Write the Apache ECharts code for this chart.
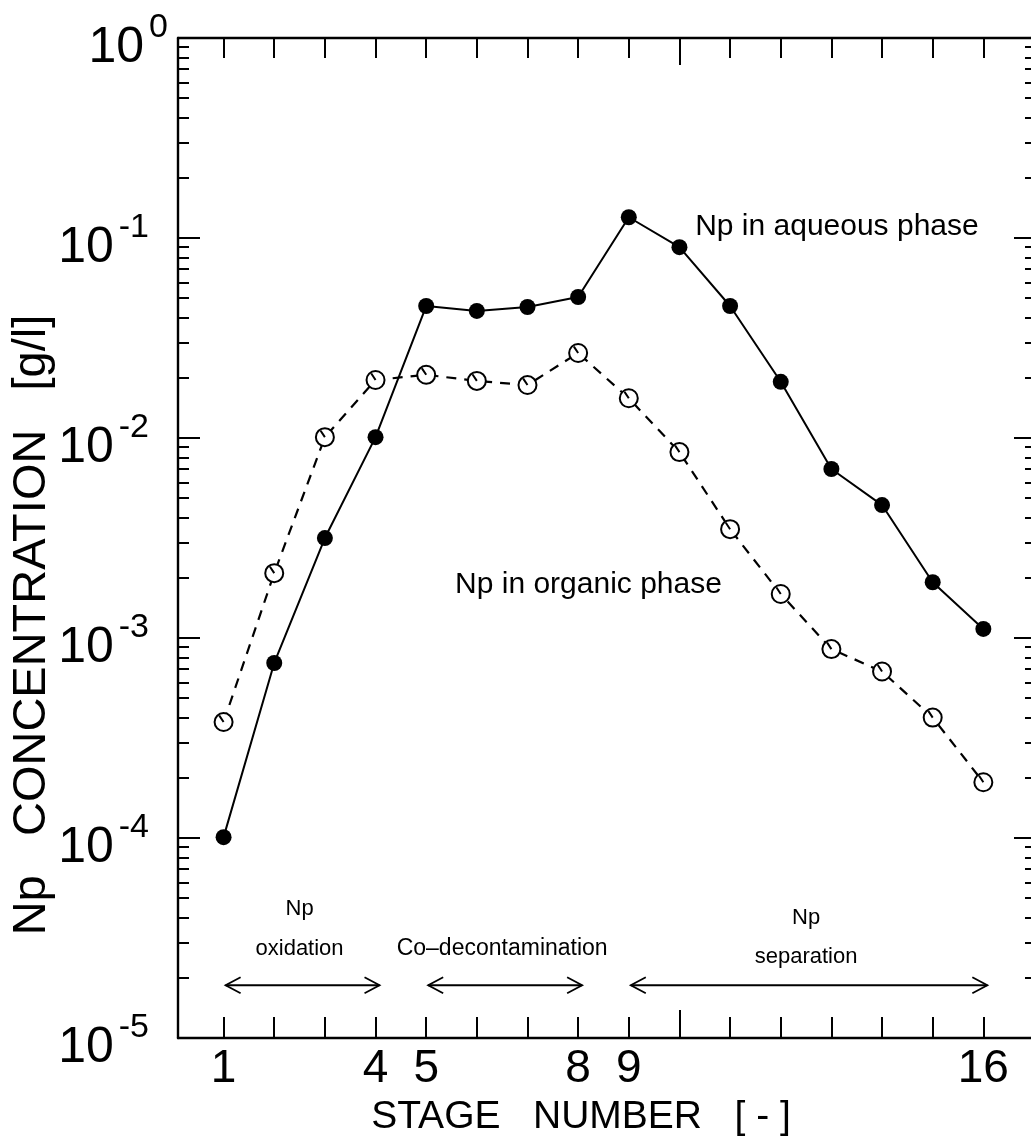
<!DOCTYPE html>
<html>
<head>
<meta charset="utf-8">
<script src="https://cdn.jsdelivr.net/npm/echarts@6/dist/echarts.min.js"></script>
<style>
  html, body { margin: 0; padding: 0; background: #ffffff; }
  #chart { width: 1031px; height: 1147px; }
</style>
</head>
<body>
<div id="chart"></div>
<script>
// Extraction stages along the contactor bank
const stages = [1, 2, 3, 4, 5, 6, 7, 8, 9, 10, 11, 12, 13, 14, 15, 16];

// Np concentration in each phase [g/l]
const aqueousNp = [1.01e-4, 7.5e-4, 3.16e-3, 1.01e-2, 0.0457, 0.0432, 0.0452, 0.0507,
                   0.127, 0.090, 0.0457, 0.0191, 7.0e-3, 4.62e-3, 1.9e-3, 1.11e-3];
const organicNp = [3.8e-4, 2.11e-3, 1.01e-2, 0.0195, 0.0207, 0.0193, 0.0184, 0.0266,
                   0.0158, 8.5e-3, 3.5e-3, 1.66e-3, 8.8e-4, 6.8e-4, 4.0e-4, 1.9e-4];

// Axis ticks and labels
const stageTicks = [1, 2, 3, 4, 5, 6, 7, 8, 9, 10, 11, 12, 13, 14, 15, 16];
const stageLabels = [1, 4, 5, 8, 9, 16];
const decadeTicks = [1e-5, 1e-4, 1e-3, 1e-2, 1e-1, 1];

// Process sections and the stages they span
const sectionNames = ['Np\noxidation', 'Co\u2013decontamination', 'Np\nseparation'];
const sectionStart = [1, 5, 9];
const sectionEnd = [4, 8, 16];

// Minor log ticks at 2..9 x 10^k
const minorTicks = [];
for (let e = -5; e < 0; e++) {
  for (let m = 2; m <= 9; m++) minorTicks.push(Number((m * Math.pow(10, e)).toPrecision(3)));
}

const FONT = '"Liberation Sans", Arial, Helvetica, sans-serif';
const INK = '#000000';
const AXIS_W = 2.4;

const chart = echarts.init(document.getElementById('chart'), null, { renderer: 'canvas' });

function logAxis(position, ticks, len, extra) {
  return Object.assign({
    type: 'log',
    logBase: 10,
    position: position,
    min: 1e-5,
    max: 1,
    axisLine: { show: false },
    axisTick: { show: true, inside: true, length: len, customValues: ticks,
                lineStyle: { color: INK, width: 2 } },
    axisLabel: { show: false },
    splitLine: { show: false },
    minorTick: { show: false }
  }, extra || {});
}

function stageAxis(position, ticks, len, extra) {
  return Object.assign({
    type: 'value',
    position: position,
    min: 0.1,
    max: 17,
    axisLine: { show: false },
    axisTick: { show: true, inside: true, length: len, customValues: ticks,
                lineStyle: { color: INK, width: 2 } },
    axisLabel: { show: false },
    splitLine: { show: false }
  }, extra || {});
}

// Open circle with a short radial stroke
const openMarker = 'path://M10,0.5 A9.5,9.5 0 1 1 9.99,0.5 Z M10,10 L5.5,3.2';

const option = {
  backgroundColor: '#ffffff',
  animation: false,
  grid: { left: 178, top: 38, width: 856, height: 1000, containLabel: false, outerBoundsMode: 'none' },
  xAxis: [
    stageAxis('bottom', stageTicks, 21, {
      axisLine: { show: true, lineStyle: { color: INK, width: AXIS_W } },
      axisLabel: { show: true, customValues: stageLabels, margin: 8,
                   fontFamily: FONT, fontSize: 46, color: INK },
      name: 'STAGE   NUMBER   [ - ]',
      nameLocation: 'middle',
      nameGap: 60,
      nameTextStyle: { fontFamily: FONT, fontSize: 39, color: INK, padding: [0, 50, 0, 0] }
    }),
    stageAxis('top', stageTicks, 20, {
      axisLine: { show: true, lineStyle: { color: INK, width: AXIS_W } }
    }),
    stageAxis('bottom', [10], 28),
    stageAxis('top', [10], 27)
  ],
  yAxis: [
    logAxis('left', decadeTicks, 22, {
      axisLine: { show: true, lineStyle: { color: INK, width: AXIS_W } },
      axisLabel: {
        show: true,
        customValues: decadeTicks,
        margin: 10,
        padding: [8, 0, 0, 0],
        formatter: function (v) {
          const e = Math.round(Math.log10(v));
          return e < 0 ? '{b|10}{n|-' + (-e) + '}' : '{b|10}{s|' + e + '}';
        },
        rich: {
          b: { fontFamily: FONT, fontSize: 50, color: INK, lineHeight: 62, verticalAlign: 'bottom' },
          s: { fontFamily: FONT, fontSize: 34, color: INK, lineHeight: 34, verticalAlign: 'top',
               padding: [0, 0, 0, 5] },
          n: { fontFamily: FONT, fontSize: 34, color: INK, lineHeight: 34, verticalAlign: 'top',
               padding: [0, 19, 0, 5] }
        }
      },
      name: 'Np   CONCENTRATION   [g/l]',
      nameLocation: 'middle',
      nameRotate: 90,
      nameGap: 122,
      nameMoveOverlap: false,
      nameTextStyle: { fontFamily: FONT, fontSize: 47, color: INK, padding: [0, 174, 0, 0] }
    }),
    logAxis('left', minorTicks, 11),
    logAxis('right', decadeTicks, 20, {
      axisLine: { show: true, lineStyle: { color: INK, width: AXIS_W } }
    }),
    logAxis('right', minorTicks, 9)
  ],
  series: [
    {
      name: 'Np in aqueous phase',
      type: 'line',
      xAxisIndex: 0,
      yAxisIndex: 0,
      data: stages.map(function (s, i) { return [s, aqueousNp[i]]; }),
      symbol: 'circle',
      symbolSize: 16,
      itemStyle: { color: INK },
      lineStyle: { color: INK, width: 2 },
      z: 4
    },
    {
      name: 'Np in organic phase',
      type: 'line',
      xAxisIndex: 0,
      yAxisIndex: 0,
      data: stages.map(function (s, i) { return [s, organicNp[i]]; }),
      symbol: openMarker,
      symbolSize: 18,
      itemStyle: { color: '#ffffff', borderColor: INK, borderWidth: 2 },
      lineStyle: { color: INK, width: 2.2, type: [10, 8] },
      z: 3
    },
    {
      // section arrows with their captions
      type: 'custom',
      xAxisIndex: 0,
      yAxisIndex: 0,
      silent: true,
      clip: false,
      data: sectionStart.map(function (s, i) { return [s, sectionEnd[i], i]; }),
      encode: { x: [0, 1] },
      renderItem: function (params, api) {
        const i = api.value(2);
        const arrowLevel = 1.9e-5;
        const a = api.coord([api.value(0), arrowLevel]);
        const b = api.coord([api.value(1), arrowLevel]);
        const x0 = a[0] + 2, x1 = b[0] + 4, y = a[1] + 3;
        const head = 15, half = 8;
        const stroke = { stroke: INK, lineWidth: 1.8, fill: null };
        const lines = sectionNames[i].split('\n');
        const cx = (a[0] + b[0]) / 2;
        const children = [
          { type: 'line', shape: { x1: x0, y1: y, x2: x1, y2: y }, style: stroke },
          { type: 'polyline', shape: { points: [[x0 + head, y - half], [x0, y], [x0 + head, y + half]] }, style: stroke },
          { type: 'polyline', shape: { points: [[x1 - head, y - half], [x1, y], [x1 - head, y + half]] }, style: stroke }
        ];
        const captionY = i === 2 ? [y - 67, y - 28] : (lines.length > 1 ? [y - 76, y - 36] : [y - 37]);
        const size = lines.length > 1 ? 22 : 23;
        lines.forEach(function (t, k) {
          children.push({
            type: 'text',
            x: cx,
            y: captionY[k],
            style: { text: t, fill: INK, font: size + 'px ' + FONT, align: 'center', verticalAlign: 'middle' }
          });
        });
        return { type: 'group', children: children };
      },
      z: 2
    },
    {
      // curve captions
      type: 'custom',
      xAxisIndex: 0,
      yAxisIndex: 0,
      silent: true,
      clip: false,
      data: [[10.31, 0.1135, 0], [5.57, 1.84e-3, 1]],
      renderItem: function (params, api) {
        const p = api.coord([api.value(0), api.value(1)]);
        const text = api.value(2) === 0 ? 'Np in aqueous phase' : 'Np in organic phase';
        return {
          type: 'text',
          x: p[0],
          y: p[1],
          style: { text: text, fill: INK, font: '30px ' + FONT, align: 'left', verticalAlign: 'middle' }
        };
      },
      z: 2
    }
  ]
};

chart.setOption(option);
</script>
</body>
</html>
